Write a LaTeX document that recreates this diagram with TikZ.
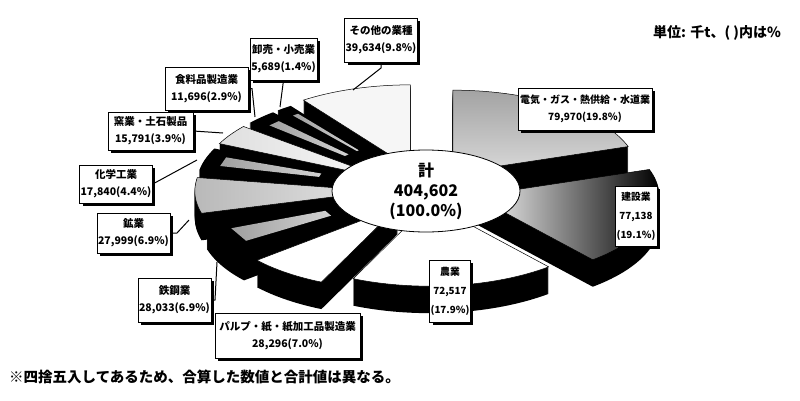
\documentclass[tikz,border=0pt]{standalone}
\usepackage{fontspec}
\newfontfamily\jp{Noto Sans CJK JP}
\usetikzlibrary{shapes.geometric,shadows}
\tikzset{
  lbox/.style={draw=black, line width=0.7pt, fill=white, align=center, inner sep=1pt,
    font=\jp\bfseries\fontsize{10.5}{17}\selectfont,
    drop shadow={shadow xshift=3pt, shadow yshift=-3pt, opacity=1, fill=black}},
  tallbox/.style={lbox, font=\jp\bfseries\fontsize{9.8}{19}\selectfont},
  lead/.style={draw=black, line width=1pt},
  streak/.style={left color=gray!75, right color=gray!35},
  face/.style={draw=black, line width=0.5pt},
}
% #1 start angle, #2 end angle, #3 explode, #4 top face style, #5 streak flag
\newcommand\PSlice[5]{%
  \pgfmathsetmacro\mA{(#1+#2)/2}%
  \pgfmathsetmacro\pX{426+#3*185*cos(\mA)}%
  \pgfmathsetmacro\pY{190-#3*83*sin(\mA)}%
  \foreach \k in {27,26,...,1}{%
    \fill[black] (\pX,\pY+\k) -- plot[domain=#1:#2,samples=36] ({\pX+185*cos(\x)},{\pY+\k-83*sin(\x)}) -- cycle;
  }%
  \path[#4] (\pX,\pY) -- plot[domain=#1:#2,samples=36] ({\pX+185*cos(\x)},{\pY-83*sin(\x)}) -- cycle;
  \ifnum#5=1
    \pgfmathsetmacro\dA{(#1-#2)*0.22}%
    \fill[streak] ({\pX+0.35*185*cos(\mA-\dA)},{\pY-0.35*83*sin(\mA-\dA)})
      -- ({\pX+0.9*185*cos(\mA-\dA)},{\pY-0.9*83*sin(\mA-\dA)})
      -- ({\pX+0.9*185*cos(\mA+\dA)},{\pY-0.9*83*sin(\mA+\dA)})
      -- ({\pX+0.35*185*cos(\mA+\dA)},{\pY-0.35*83*sin(\mA+\dA)}) -- cycle;
  \fi
}
\begin{document}
\begin{tikzpicture}[x=1pt,y=-1pt]
\useasboundingbox (0,0) rectangle (800,400);
\fill[white] (0,0) rectangle (800,400);

% slices, back to front
\PSlice{125.3}{90}{0.28}{face, fill=gray!7}{0}
\PSlice{90}{18.7}{0.25}{face, top color=gray!72, bottom color=gray!30}{0}
\PSlice{130.4}{125.3}{0.25}{fill=black}{1}
\PSlice{140.8}{130.4}{0.25}{fill=black}{1}
\PSlice{154.8}{140.8}{0.25}{face, left color=gray!25, right color=gray!5}{0}
\PSlice{170.6}{154.8}{0.25}{fill=black}{1}
\PSlice{195.5}{170.6}{0.25}{face, left color=gray!55, right color=gray!20}{0}
\PSlice{220.3}{195.5}{0.25}{fill=black}{1}
\PSlice{18.7}{-50.1}{0.27}{face, left color=white, middle color=gray!45, right color=black}{0}
\PSlice{245.5}{220.3}{0.25}{face, fill=white}{0}
\PSlice{-50.1}{-114.5}{0.16}{face, fill=white}{0}

% centre
\node[ellipse, draw=black, line width=0.8pt, fill=white, minimum width=188pt, minimum height=82pt, inner sep=0pt] (hole) at (426,191) {};
\node[align=center, font=\jp\bfseries\fontsize{16}{20}\selectfont, inner sep=0pt] (tot) at (hole.center) {計\\404,602\\(100.0\%)};

% leader points
\coordinate (cOther1) at (381,68);
\coordinate (cOther) at (353,90);
\coordinate (cWhole) at (280,107);
\coordinate (cFood1) at (252,88.5);
\coordinate (cFood) at (255,117);
\coordinate (cCer) at (223,133);
\coordinate (cChem) at (197,160);
\coordinate (cMin1) at (177,233);
\coordinate (cMin) at (189,220);
\coordinate (cSteel1) at (215,300);
\coordinate (cSteel) at (217,262);

% labels
\node[lbox, minimum width=72pt, minimum height=44pt] (bOther) at (381,40) {その他の業種\\39,634(9.8\%)};
\node[lbox, minimum width=67pt, minimum height=42pt] (bWhole) at (283.5,59) {卸売・小売業\\5,689(1.4\%)};
\node[lbox, minimum width=83pt, minimum height=43pt] (bFood) at (206.5,88.5) {食料品製造業\\11,696(2.9\%)};
\node[lbox, minimum width=85pt, minimum height=38pt] (bCer) at (150.5,131) {窯業・土石製品\\15,791(3.9\%)};
\node[lbox, minimum width=72pt, minimum height=38pt] (bChem) at (116,184) {化学工業\\17,840(4.4\%)};
\node[lbox, minimum width=63pt, minimum height=40pt] (bMin) at (133.5,233) {鉱業\\27,999(6.9\%)};
\node[lbox, minimum width=65pt, minimum height=44pt] (bSteel) at (174.5,300) {鉄鋼業\\28,033(6.9\%)};
\node[lbox, minimum width=145pt, minimum height=45pt] (bPulp) at (287.5,335.5) {パルプ・紙・紙加工品製造業\\28,296(7.0\%)};
\node[tallbox, minimum width=40pt, minimum height=62pt] (bAgr) at (450,291) {農業\\72,517\\(17.9\%)};
\node[tallbox, minimum width=42pt, minimum height=60pt] (bCon) at (636,216) {建設業\\77,138\\(19.1\%)};
\node[lbox, font=\jp\bfseries\fontsize{10}{17}\selectfont, minimum width=134pt, minimum height=42pt] (bElec) at (585,109) {電気・ガス・熱供給・水道業\\79,970(19.8\%)};

% leaders
\draw[lead] (bOther.south) -- (cOther1) -- (cOther);
\draw[lead] (bWhole.south) -- (cWhole);
\draw[lead] (bFood.east) -- (cFood1) -- (cFood);
\draw[lead] (bCer.east) -- (cCer);
\draw[lead] (bChem.east) -- (cChem);
\draw[lead] (bMin.east) -- (cMin1) -- (cMin);
\draw[lead] (bSteel.east) -- (cSteel1) -- (cSteel);

% texts
\node[anchor=east, font=\jp\bfseries\fontsize{14}{16}\selectfont, inner sep=0pt] (unit) at (781,33) {単位: 千t、( )内は\%};
\node[anchor=west, font=\jp\bfseries\fontsize{14.5}{16}\selectfont, inner sep=0pt] (note) at (9,377) {※四捨五入してあるため、合算した数値と合計値は異なる。};
\end{tikzpicture}
\end{document}
